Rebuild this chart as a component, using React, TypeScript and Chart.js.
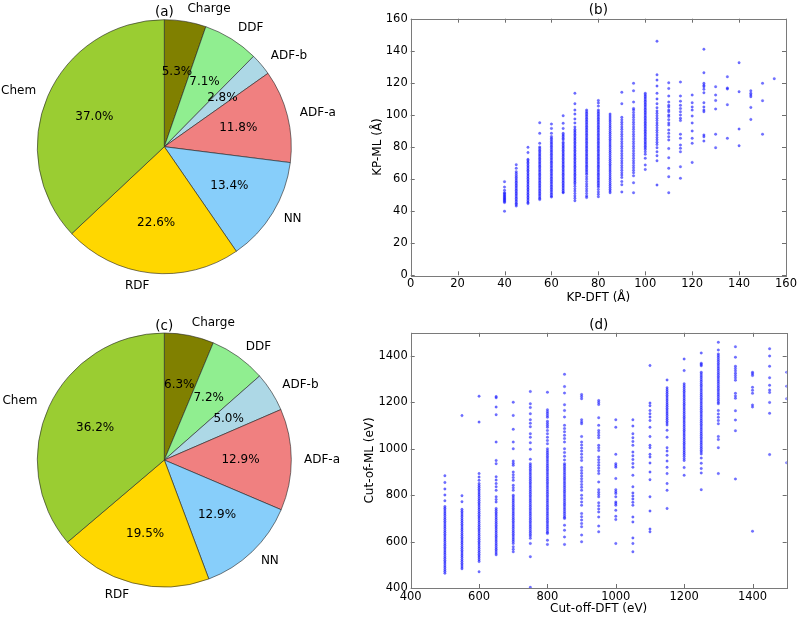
import React, { useEffect, useRef } from "react";
import { Chart, registerables } from "chart.js";

Chart.register(...registerables);

const FONT = "'DejaVu Sans', 'Liberation Sans', sans-serif";

// ---------- Pie data ----------
const pieLabels = ["Charge", "DDF", "ADF-b", "ADF-a", "NN", "RDF", "Chem"];
const pieColors = ["#808000", "#90EE90", "#ADD8E6", "#F08080", "#87CEFA", "#FFD700", "#9ACD32"];
const kpShares = [5.3, 7.1, 2.8, 11.8, 13.4, 22.6, 37.0];
const cutoffShares = [6.3, 7.2, 5.0, 12.9, 12.9, 19.5, 36.2];

// ---------- (b) KP-DFT vs KP-ML ----------
const kpDft = [40, 45, 50, 55, 60, 65, 70, 75, 80, 85, 90, 95, 100, 105, 110, 115, 120, 125, 130, 135, 140, 145, 150, 155];
const kp40 = [58.4, 55.0, 53.0, 51.5, 51.0, 50.3, 49.6, 49.0, 48.4, 47.8, 47.2, 46.6, 46.0, 45.4, 40.0];
const kp45 = [69.0, 66.7, 64.6, 63.4, 62.3, 61.2, 60.1, 59.0, 58.0, 57.0, 56.0, 55.0, 54.0, 53.0, 52.0, 51.0, 50.0, 49.0, 48.0, 47.0, 46.0, 45.0, 44.2, 43.2];
const kp50 = [79.8, 76.5, 72.3, 71.5, 70.5, 69.5, 68.5, 67.5, 66.5, 65.5, 64.5, 63.5, 62.5, 61.5, 60.5, 59.5, 58.5, 57.5, 56.5, 55.5, 54.5, 53.5, 52.5, 51.5, 50.5, 49.5, 48.5, 47.5, 46.5, 45.5, 44.7];
const kp55 = [95.1, 88.5, 82.3, 80.0, 79.0, 78.0, 77.0, 76.0, 75.0, 74.0, 73.0, 72.0, 71.0, 70.0, 69.0, 68.0, 67.0, 66.0, 65.0, 64.0, 63.0, 62.0, 61.0, 60.0, 59.0, 58.0, 57.0, 56.0, 55.0, 54.0, 53.0, 52.0, 51.0, 50.0, 49.0, 48.0, 47.2];
const kp60 = [94.3, 91.6, 88.5, 86.5, 85.5, 84.5, 83.5, 82.5, 81.5, 80.5, 79.5, 78.5, 77.5, 76.5, 75.5, 74.5, 73.5, 72.5, 71.5, 70.5, 69.5, 68.5, 67.5, 66.5, 65.5, 64.5, 63.5, 62.5, 61.5, 60.5, 59.5, 58.5, 57.5, 56.5, 55.5, 54.5, 53.5, 52.5, 51.5, 50.5, 49.5, 48.8];
const kp65 = [99.5, 94.8, 91.6, 88.5, 87.5, 86.5, 85.5, 84.5, 83.0, 82.0, 81.0, 80.0, 79.0, 78.0, 77.0, 76.0, 75.0, 74.0, 73.0, 72.0, 71.0, 70.0, 69.0, 68.0, 67.0, 66.0, 65.0, 64.0, 63.0, 62.0, 61.0, 60.0, 59.0, 58.0, 57.0, 56.0, 55.0, 54.0, 53.0, 52.0, 51.5];
const kp70 = [113.5, 107.0, 103.0, 100.5, 97.5, 95.0, 92.5, 91.0, 90.0, 89.0, 88.0, 87.0, 86.0, 85.0, 84.0, 83.0, 82.0, 81.0, 80.0, 79.0, 78.0, 77.0, 76.0, 75.0, 74.0, 73.0, 72.0, 71.0, 70.0, 69.0, 68.0, 67.0, 66.0, 65.0, 64.0, 63.0, 62.0, 61.0, 60.0, 59.0, 58.0, 57.0, 55.5, 54.0, 52.5, 51.0, 49.5, 48.0, 46.5];
const kp75 = [103.0, 102.0, 101.0, 100.0, 99.0, 98.0, 97.0, 96.0, 95.0, 94.0, 93.0, 92.0, 91.0, 90.0, 89.0, 88.0, 87.0, 86.0, 85.0, 84.0, 83.0, 82.0, 81.0, 80.0, 79.0, 78.0, 77.0, 76.0, 75.0, 74.0, 73.0, 72.0, 71.0, 70.0, 69.0, 68.0, 67.0, 66.0, 65.0, 64.0, 63.0, 61.5, 60.0, 58.5, 57.0, 55.5, 54.0, 52.5, 51.0, 49.5, 48.5];
const kp80 = [109.0, 107.5, 105.5, 103.0, 102.0, 101.0, 100.0, 99.0, 98.0, 97.0, 96.0, 95.0, 94.0, 93.0, 92.0, 91.0, 90.0, 89.0, 88.0, 87.0, 86.0, 85.0, 84.0, 83.0, 82.0, 81.0, 80.0, 79.0, 78.0, 77.0, 76.0, 75.0, 74.0, 73.0, 72.0, 71.0, 70.0, 69.0, 68.0, 67.0, 66.0, 65.0, 64.0, 63.0, 62.0, 61.0, 60.0, 59.0, 58.0, 57.0, 56.0, 55.0, 53.5, 52.0, 50.5, 49.0];
const kp85 = [100.5, 99.3, 98.1, 96.9, 95.7, 94.5, 93.3, 92.1, 90.9, 89.7, 88.5, 87.3, 86.1, 84.9, 83.7, 82.5, 81.3, 80.1, 78.9, 77.7, 76.5, 75.3, 74.1, 72.9, 71.7, 70.5, 69.3, 68.1, 66.9, 65.7, 64.5, 63.3, 62.1, 60.9, 59.7, 58.5, 57.3, 56.1, 54.9, 53.7, 52.5, 51.5];
const kp90 = [114.1, 107.0, 98.5, 97.0, 95.5, 94.0, 92.5, 91.0, 89.5, 88.0, 86.5, 85.0, 83.5, 82.0, 80.5, 79.0, 77.5, 76.0, 74.5, 73.0, 71.5, 70.0, 68.5, 67.0, 65.5, 64.0, 62.5, 61.0, 58.5, 56.5, 52.0];
const kp95 = [119.7, 115.0, 108.0, 104.0, 103.0, 101.5, 100.0, 98.5, 97.0, 95.5, 94.0, 92.5, 91.0, 89.5, 88.0, 86.5, 85.0, 83.5, 82.0, 80.5, 79.0, 77.5, 76.0, 74.5, 73.0, 71.5, 70.0, 68.5, 67.0, 65.5, 64.0, 62.0, 57.7, 51.5];
const kp100 = [113.5, 112.5, 111.5, 110.5, 109.5, 108.5, 107.5, 106.5, 105.5, 104.5, 103.5, 102.5, 101.5, 100.5, 99.5, 98.5, 97.5, 96.5, 95.5, 94.5, 93.5, 92.5, 91.5, 90.5, 89.5, 88.5, 87.5, 86.5, 85.5, 84.5, 83.5, 82.5, 81.5, 80.5, 79.5, 78.5, 77.0, 75.5, 73.0, 68.8, 66.0];
const kp105 = [146.0, 125.0, 121.7, 118.0, 113.5, 110.0, 107.0, 104.5, 102.5, 101.0, 99.5, 98.0, 96.5, 95.0, 93.5, 92.0, 90.5, 89.0, 87.5, 86.0, 84.5, 83.0, 81.5, 79.6, 77.0, 74.6, 71.4, 56.3];
const kp110 = [120.0, 116.5, 111.8, 108.0, 106.0, 105.0, 103.0, 102.0, 100.0, 99.0, 97.0, 95.0, 93.7, 90.6, 88.5, 86.4, 84.4, 79.0, 73.3, 66.7, 61.5, 51.5];
const kp115 = [120.5, 111.8, 108.6, 106.0, 104.0, 102.0, 100.0, 98.0, 96.5, 88.0, 85.4, 81.2, 79.2, 77.0, 67.7, 60.5];
const kp120 = [112.4, 107.6, 105.0, 103.0, 99.3, 95.0, 90.0, 85.4, 82.3, 70.4];
const kp125 = [141.0, 126.3, 119.7, 118.5, 117.6, 116.0, 113.8, 107.6, 105.0, 103.0, 102.0, 87.5, 86.4, 83.7];
const kp130 = [117.6, 112.4, 109.0, 103.7, 88.0, 79.6];
const kp135 = [123.8, 116.8, 116.2, 106.4, 85.4];
const kp140 = [132.6, 114.5, 91.2, 80.8];
const kp145 = [115.0, 113.5, 112.4, 111.4, 104.7, 97.2];
const kp150 = [119.7, 108.9, 88.0];
const kp155 = [122.6];
const kpMl = [kp40, kp45, kp50, kp55, kp60, kp65, kp70, kp75, kp80, kp85, kp90, kp95, kp100, kp105, kp110, kp115, kp120, kp125, kp130, kp135, kp140, kp145, kp150, kp155];

// ---------- (d) Cut-off-DFT vs Cut-of-ML ----------
const cutDft = [500, 550, 600, 650, 700, 750, 800, 850, 900, 950, 1000, 1050, 1100, 1150, 1200, 1250, 1300, 1350, 1400, 1450, 1500];
const cut500 = [884, 855, 827, 801, 776, 751, 744, 736, 728, 720, 712, 704, 696, 688, 680, 672, 664, 656, 648, 640, 632, 624, 616, 608, 600, 592, 584, 576, 568, 560, 552, 544, 536, 528, 520, 512, 504, 496, 488, 480, 472, 464];
const cut550 = [1143, 798, 772, 739, 731, 723, 715, 707, 699, 691, 683, 675, 667, 659, 651, 643, 635, 627, 619, 611, 603, 595, 587, 579, 571, 563, 555, 547, 539, 531, 523, 515, 507, 499, 491, 483];
const cut600 = [1227, 1115, 893, 878, 864, 850, 842, 834, 826, 818, 810, 802, 794, 786, 778, 770, 762, 754, 746, 738, 730, 722, 714, 706, 698, 690, 682, 674, 666, 658, 650, 642, 634, 626, 618, 610, 602, 594, 586, 578, 570, 562, 554, 546, 538, 530, 522, 514, 470];
const cut650 = [1225, 1220, 1180, 1147, 1029, 950, 936, 879, 865, 850, 836, 821, 793, 782, 771, 743, 735, 727, 719, 711, 703, 695, 687, 679, 671, 663, 655, 647, 639, 631, 623, 615, 607, 599, 591, 583, 575, 567, 559, 551, 543];
const cut700 = [1201, 1144, 1084, 1029, 1000, 947, 938, 929, 900, 888, 876, 864, 843, 832, 821, 800, 792, 784, 776, 768, 760, 752, 744, 736, 728, 720, 712, 704, 696, 688, 680, 672, 664, 656, 648, 640, 632, 624, 616, 608, 600, 592, 578, 567, 556];
const cut750 = [1247, 1194, 1178, 1151, 1125, 1110, 1095, 1065, 1050, 1026, 998, 955, 936, 928, 920, 912, 904, 896, 888, 880, 872, 864, 856, 848, 840, 832, 824, 816, 808, 800, 792, 784, 776, 768, 760, 752, 744, 736, 728, 720, 712, 704, 696, 688, 680, 672, 664, 656, 648, 640, 632, 624, 614, 592, 535, 403];
const cut800 = [1244, 1168, 1160, 1152, 1144, 1136, 1119, 1110, 1101, 1093, 1079, 1065, 1050, 1036, 1022, 1000, 992, 984, 976, 968, 960, 952, 944, 936, 928, 920, 912, 904, 896, 888, 880, 872, 864, 856, 848, 840, 832, 824, 816, 808, 800, 792, 784, 776, 768, 760, 752, 744, 736, 728, 720, 712, 704, 696, 688, 680, 672, 664, 656, 648, 640, 635, 606, 588];
const cut850 = [1321, 1268, 1240, 1190, 1165, 1137, 1101, 1087, 1073, 1058, 1044, 1029, 1000, 984, 968, 952, 936, 929, 921, 913, 905, 897, 889, 881, 873, 865, 857, 849, 841, 833, 825, 817, 809, 801, 793, 785, 777, 769, 761, 753, 745, 737, 729, 721, 713, 705, 700, 671, 649, 620, 588];
const cut900 = [1234, 1225, 1216, 1125, 1116, 1108, 1053, 1029, 1016, 1003, 990, 977, 963, 950, 919, 907, 895, 883, 871, 859, 846, 834, 821, 800, 786, 771, 757, 721, 707, 693, 678, 664, 628, 599];
const cut950 = [1208, 1200, 1191, 1134, 1101, 1079, 1069, 1058, 1048, 1015, 1004, 993, 965, 953, 941, 929, 917, 905, 893, 857, 824, 813, 803, 793, 767, 754, 741, 728, 706, 667, 642];
const cut1000 = [1125, 1093, 976, 936, 928, 921, 872, 824, 815, 807, 793, 771, 764, 757, 735, 709, 695, 592];
const cut1050 = [1125, 1098, 1065, 1048, 1032, 1015, 986, 970, 954, 937, 921, 886, 836, 810, 797, 784, 770, 757, 706, 685, 616, 592, 556];
const cut1100 = [1359, 1197, 1186, 1165, 1151, 1137, 1122, 1093, 1053, 1015, 1005, 976, 965, 939, 900, 867, 793, 732, 654, 642];
const cut1150 = [1297, 1263, 1255, 1247, 1239, 1231, 1223, 1215, 1207, 1199, 1191, 1183, 1175, 1167, 1159, 1151, 1143, 1135, 1127, 1119, 1111, 1103, 1080, 1050, 1005, 990, 972, 947, 920, 893, 850, 821, 743];
const cut1200 = [1387, 1337, 1280, 1272, 1264, 1256, 1248, 1240, 1232, 1224, 1216, 1208, 1200, 1192, 1184, 1176, 1168, 1160, 1152, 1144, 1136, 1128, 1120, 1112, 1104, 1096, 1088, 1080, 1072, 1064, 1056, 1048, 1040, 1032, 1024, 1016, 1008, 1000, 992, 984, 976, 968, 958, 950, 919, 886];
const cut1250 = [1413, 1369, 1363, 1358, 1330, 1322, 1314, 1306, 1298, 1290, 1282, 1274, 1266, 1258, 1250, 1242, 1234, 1226, 1218, 1210, 1202, 1194, 1186, 1178, 1170, 1162, 1154, 1146, 1138, 1130, 1122, 1114, 1106, 1098, 1090, 1082, 1074, 1066, 1058, 1050, 1042, 1034, 1026, 1018, 1010, 1002, 994, 986, 978, 960, 938, 915, 896, 824];
const cut1300 = [1459, 1426, 1409, 1401, 1393, 1385, 1377, 1369, 1361, 1353, 1345, 1337, 1329, 1321, 1313, 1305, 1297, 1289, 1281, 1273, 1265, 1257, 1249, 1241, 1233, 1225, 1217, 1209, 1201, 1194, 1165, 1150, 1136, 1122, 1108, 1053, 1040, 1005, 893];
const cut1350 = [1440, 1395, 1356, 1346, 1336, 1326, 1316, 1306, 1296, 1239, 1228, 1218, 1164, 1124, 1078, 870];
const cut1400 = [1330, 1323, 1316, 1265, 1252, 1239, 1189, 1180, 645];
const cut1450 = [1431, 1400, 1356, 1306, 1274, 1253, 1243, 1200, 1153, 975];
const cut1500 = [1330, 1270, 1216, 940];
const cutMl = [cut500, cut550, cut600, cut650, cut700, cut750, cut800, cut850, cut900, cut950, cut1000, cut1050, cut1100, cut1150, cut1200, cut1250, cut1300, cut1350, cut1400, cut1450, cut1500];

function toPoints(xs: number[], cols: number[][]) {
  const pts: { x: number; y: number }[] = [];
  xs.forEach((x, i) => cols[i].forEach((y) => pts.push({ x, y })));
  return pts;
}

function pieTextPlugin(title: string) {
  return {
    id: "pieText",
    afterDatasetsDraw(chart: any) {
      const ctx = chart.ctx;
      const meta = chart.getDatasetMeta(0);
      const vals = chart.data.datasets[0].data as number[];
      const total = vals.reduce((a, b) => a + b, 0);
      ctx.save();
      ctx.fillStyle = "#000";
      ctx.textBaseline = "middle";
      ctx.font = `12px ${FONT}`;
      let cx0 = 0, cy0 = 0, r0 = 0;
      meta.data.forEach((arc: any, i: number) => {
        const p = arc.getProps(["x", "y", "startAngle", "endAngle", "outerRadius"], true);
        cx0 = p.x; cy0 = p.y; r0 = p.outerRadius;
        const mid = (p.startAngle + p.endAngle) / 2;
        const c = Math.cos(mid), s = Math.sin(mid);
        ctx.textAlign = c >= 0 ? "left" : "right";
        ctx.fillText(String(chart.data.labels[i]), p.x + c * 1.1 * p.outerRadius, p.y + s * 1.1 * p.outerRadius);
        ctx.textAlign = "center";
        const pct = ((vals[i] / total) * 100).toFixed(1) + "%";
        ctx.fillText(pct, p.x + c * 0.6 * p.outerRadius, p.y + s * 0.6 * p.outerRadius);
      });
      ctx.font = `13.5px ${FONT}`;
      ctx.textAlign = "center";
      ctx.fillText(title, cx0, cy0 - r0 - 7);
      ctx.restore();
    },
  };
}

const framePlugin = {
  id: "frame",
  afterDraw(chart: any) {
    const { ctx, chartArea } = chart;
    const { left, right, top, bottom } = chartArea;
    const xs = chart.scales.x;
    const ys = chart.scales.y;
    ctx.save();
    ctx.strokeStyle = "#6e6e6e";
    ctx.lineWidth = 1;
    ctx.beginPath();
    xs.ticks.forEach((t: any) => {
      const px = Math.round(xs.getPixelForValue(t.value)) + 0.5;
      ctx.moveTo(px, bottom); ctx.lineTo(px, bottom - 4);
      ctx.moveTo(px, top); ctx.lineTo(px, top + 4);
    });
    ys.ticks.forEach((t: any) => {
      const py = Math.round(ys.getPixelForValue(t.value)) + 0.5;
      ctx.moveTo(left, py); ctx.lineTo(left + 4, py);
      ctx.moveTo(right, py); ctx.lineTo(right - 4, py);
    });
    ctx.stroke();
    ctx.strokeStyle = "#7a7a7a";
    ctx.strokeRect(Math.round(left) + 0.5, Math.round(top) + 0.5, Math.round(right - left), Math.round(bottom - top));
    ctx.restore();
  },
};

function PieChart({ values, title, top, height, padTop, padBottom }: any) {
  const ref = useRef<HTMLCanvasElement>(null);
  useEffect(() => {
    const chart = new Chart(ref.current as HTMLCanvasElement, {
      type: "pie",
      data: {
        labels: pieLabels,
        datasets: [{ data: values, backgroundColor: pieColors, borderColor: "#222", borderWidth: 0.6, radius: 127 } as any],
      },
      options: {
        responsive: false,
        animation: false,
        events: [],
        layout: { padding: { left: 37.3, right: 58.7, top: padTop, bottom: padBottom } },
        plugins: { legend: { display: false }, tooltip: { enabled: false }, title: { display: false } },
      } as any,
      plugins: [pieTextPlugin(title)],
    });
    return () => chart.destroy();
  }, []);
  return (
    <canvas ref={ref} width={350} height={height}
      style={{ position: "absolute", left: 0, top, width: 350, height }} />
  );
}

function ScatterChart({ xs, cols, label, top, height, padTop, padRight, yWidth, xHeight, xMin, xMax, yMin, yMax, step, xTitle, yTitle, yTitlePad, xTitlePad }: any) {
  const ref = useRef<HTMLCanvasElement>(null);
  useEffect(() => {
    const tickFont = { family: FONT, size: 11.5 };
    const titleFont = { family: FONT, size: 12 };
    const chart = new Chart(ref.current as HTMLCanvasElement, {
      type: "scatter",
      data: {
        datasets: [{
          data: toPoints(xs, cols),
          backgroundColor: "rgba(20,20,255,0.6)",
          borderColor: "rgba(20,20,255,0.35)",
          borderWidth: 0.6,
          pointRadius: 1.25,
        }],
      },
      options: {
        responsive: false,
        animation: false,
        events: [],
        layout: { padding: { top: padTop, right: padRight, left: 0, bottom: 0 } },
        plugins: { legend: { display: false }, tooltip: { enabled: false }, title: { display: false } },
        scales: {
          x: {
            type: "linear", position: "bottom", min: xMin, max: xMax,
            afterFit: (s: any) => { s.height = xHeight; },
            grid: { display: false, drawTicks: false, tickLength: 0 },
            border: { display: false },
            ticks: { stepSize: step, includeBounds: false, autoSkip: false, maxRotation: 0, padding: 2, color: "#000", font: tickFont, callback: (v: any) => String(v) },
            title: { display: true, text: xTitle, color: "#000", font: titleFont, padding: { top: 0, bottom: xTitlePad } },
          },
          y: {
            type: "linear", position: "left", min: yMin, max: yMax,
            afterFit: (s: any) => { s.width = yWidth; },
            grid: { display: false, drawTicks: false, tickLength: 0 },
            border: { display: false },
            ticks: { stepSize: step, includeBounds: false, autoSkip: false, padding: 3, color: "#000", font: tickFont, callback: (v: any) => String(v) },
            title: { display: true, text: yTitle, color: "#000", font: titleFont, padding: { top: yTitlePad, bottom: 0 } },
          },
        },
      } as any,
      plugins: [framePlugin, {
        id: "subtitle",
        afterDraw(c: any) {
          const { ctx, chartArea } = c;
          ctx.save();
          ctx.fillStyle = "#000";
          ctx.font = `13.5px ${FONT}`;
          ctx.textAlign = "center";
          ctx.textBaseline = "bottom";
          ctx.fillText(label, (chartArea.left + chartArea.right) / 2, chartArea.top - 1);
          ctx.restore();
        },
      }],
    });
    return () => chart.destroy();
  }, []);
  return (
    <canvas ref={ref} width={450} height={height}
      style={{ position: "absolute", left: 350, top, width: 450, height }} />
  );
}

export default function App() {
  return (
    <div style={{ position: "absolute", left: 0, top: 0, width: 800, height: 618, background: "#fff", overflow: "hidden" }}>
      <PieChart values={kpShares} title="(a)" top={0} height={310} padTop={19.7} padBottom={36.3} />
      <PieChart values={cutoffShares} title="(c)" top={310} height={308} padTop={23} padBottom={31} />
      <ScatterChart xs={kpDft} cols={kpMl} label="(b)" top={0} height={310} padTop={18.7} padRight={14}
        yWidth={60.7} xHeight={34.7} xMin={0} xMax={160} yMin={0} yMax={160} step={20}
        xTitle="KP-DFT (Å)" yTitle="KP-ML (Å)" yTitlePad={21.1} xTitlePad={4.8} />
      <ScatterChart xs={cutDft} cols={cutMl} label="(d)" top={310} height={308} padTop={22.8} padRight={13.3}
        yWidth={60.7} xHeight={30} xMin={400} xMax={1500} yMin={400} yMax={1500} step={200}
        xTitle="Cut-off-DFT (eV)" yTitle="Cut-of-ML (eV)" yTitlePad={12.8} xTitlePad={1.5} />
    </div>
  );
}
